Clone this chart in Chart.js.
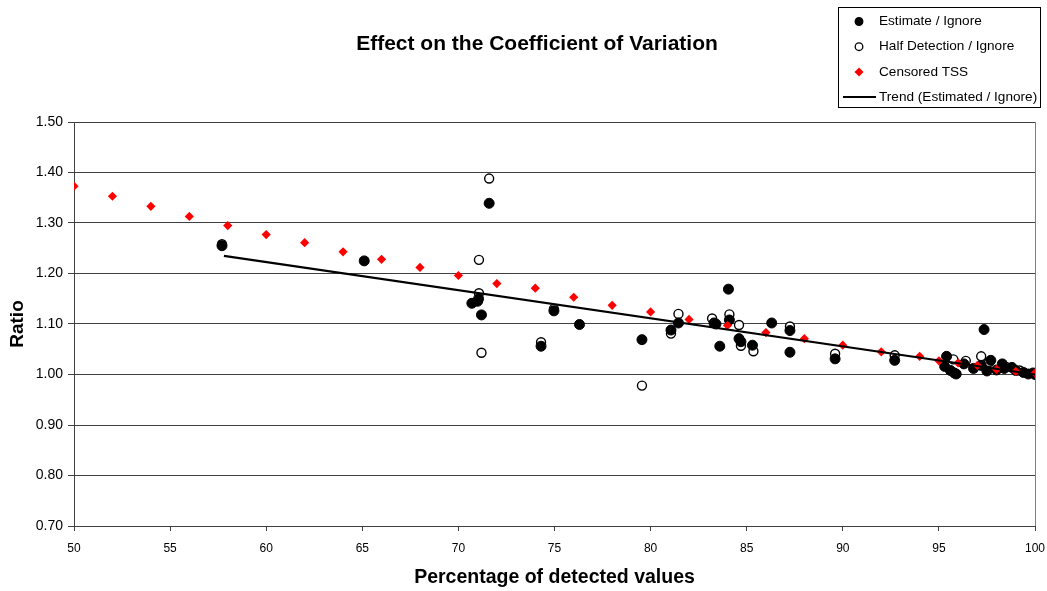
<!DOCTYPE html>
<html>
<head>
<meta charset="utf-8">
<title>Effect on the Coefficient of Variation</title>
<script src="https://cdn.jsdelivr.net/npm/chart.js@4/dist/chart.umd.min.js"></script>
<style>
  html, body { margin: 0; padding: 0; background: #fff; }
  #wrap { width: 1047px; height: 591px; }
</style>
</head>
<body>
<div id="wrap"><canvas id="cvChart" width="1047" height="591"></canvas></div>
<script>
const chartTitle = 'Effect on the Coefficient of Variation';
const xTitle = 'Percentage of detected values';
const yTitle = 'Ratio';

// Estimate / Ignore
const estX = [57.7, 65.1, 71.6, 71.05, 70.7, 71.0, 71.2, 74.97, 74.3, 76.3,
              79.55, 81.06, 81.45, 83.3, 83.4, 83.6, 84.05, 84.1, 84.6, 84.7,
              85.3, 86.3, 87.25, 87.25, 89.6, 92.7, 97.35, 95.4, 95.3, 95.6,
              95.8, 95.9, 96.3, 96.8, 97.2, 97.5, 97.7, 98.0, 98.3, 98.4,
              98.8, 99.0, 99.4, 99.65, 99.9, 100];
const estY = [1.255, 1.225, 1.339, 1.150, 1.141, 1.145, 1.118, 1.126, 1.056, 1.099,
              1.069, 1.088, 1.102, 1.102, 1.100, 1.056, 1.169, 1.108, 1.071, 1.065,
              1.058, 1.102, 1.087, 1.044, 1.031, 1.028, 1.089, 1.036, 1.016, 1.008,
              1.003, 1.001, 1.021, 1.012, 1.018, 1.007, 1.028, 1.009, 1.021, 1.012,
              1.014, 1.008, 1.004, 1.001, 1.003, 1.000];

// Half Detection / Ignore
const halfX = [57.7, 71.6, 71.07, 71.07, 71.2, 74.97, 74.3, 79.55, 81.06, 81.45,
               83.2, 84.1, 84.6, 84.7, 85.35, 87.25, 89.6, 92.7, 95.75, 96.4,
               97.2, 97.6, 98.5, 99.2, 100];
const halfY = [1.258, 1.388, 1.227, 1.161, 1.043, 1.130, 1.064, 0.978, 1.081, 1.120,
               1.111, 1.119, 1.098, 1.057, 1.046, 1.095, 1.041, 1.038, 1.030, 1.027,
               1.036, 1.024, 1.015, 1.008, 1.002];

// Censored TSS
const tssX = [50, 52, 54, 56, 58, 60, 62, 64, 66, 68, 70, 72, 74, 76, 78, 80,
              82, 84, 86, 88, 90, 92, 94, 95, 96, 97, 98, 99, 100];
const tssY = [1.373, 1.353, 1.333, 1.313, 1.295, 1.277, 1.261, 1.243, 1.228, 1.212,
              1.196, 1.180, 1.171, 1.153, 1.137, 1.124, 1.109, 1.097, 1.083, 1.071,
              1.058, 1.045, 1.036, 1.027, 1.023, 1.018, 1.010, 1.006, 1.003];

// Trend (Estimated / Ignore)
const trendX = [57.8, 100];
const trendY = [1.235, 1.0];

const yTicks = [0.7, 0.8, 0.9, 1.0, 1.1, 1.2, 1.3, 1.4, 1.5];

const pairs = (xs, ys) => xs.map((x, i) => ({ x: x, y: ys[i] }));
const FONT = '"Liberation Sans", Arial, sans-serif';

// title and boxed legend, laid out by hand
const headerPlugin = {
  id: 'header',
  afterDraw(chart) {
    const ctx = chart.ctx;
    ctx.save();
    ctx.fillStyle = '#000';
    ctx.textBaseline = 'middle';
    ctx.font = 'bold 21px ' + FONT;
    ctx.textAlign = 'center';
    ctx.fillText(chartTitle, 537, 44);

    ctx.strokeStyle = '#000';
    ctx.lineWidth = 1;
    ctx.strokeRect(838.5, 7.5, 202, 100);

    ctx.font = '13.6px ' + FONT;
    ctx.textAlign = 'left';
    const mx = 859;
    chart.data.datasets.forEach((ds, i) => {
      const y = 21.5 + i * 25.2;
      ctx.beginPath();
      if (ds.showLine) {
        ctx.strokeStyle = '#000';
        ctx.lineWidth = 2;
        ctx.moveTo(843, y);
        ctx.lineTo(876, y);
        ctx.stroke();
      } else if (ds.pointStyle === 'rectRot') {
        ctx.fillStyle = ds.pointBackgroundColor;
        ctx.moveTo(mx, y - 4.5);
        ctx.lineTo(mx + 4.5, y);
        ctx.lineTo(mx, y + 4.5);
        ctx.lineTo(mx - 4.5, y);
        ctx.closePath();
        ctx.fill();
      } else {
        ctx.arc(mx, y, 3.8, 0, Math.PI * 2);
        ctx.fillStyle = ds.pointBackgroundColor;
        ctx.fill();
        ctx.strokeStyle = '#000';
        ctx.lineWidth = 1.3;
        ctx.stroke();
      }
      ctx.fillStyle = '#000';
      ctx.fillText(ds.label, 879, y);
    });
    ctx.restore();
  }
};

new Chart(document.getElementById('cvChart'), {
  type: 'scatter',
  data: {
    datasets: [
      {
        label: 'Estimate / Ignore',
        data: pairs(estX, estY),
        order: 3,
        pointStyle: 'circle',
        pointRadius: 5,
        pointBackgroundColor: '#000',
        pointBorderColor: '#000',
        pointBorderWidth: 1
      },
      {
        label: 'Half Detection / Ignore',
        data: pairs(halfX, halfY),
        order: 4,
        pointStyle: 'circle',
        pointRadius: 4.5,
        pointBackgroundColor: '#fff',
        pointBorderColor: '#000',
        pointBorderWidth: 1.4
      },
      {
        label: 'Censored TSS',
        data: pairs(tssX, tssY),
        order: 2,
        pointStyle: 'rectRot',
        pointRadius: 4.6,
        pointBackgroundColor: '#ff0000',
        pointBorderColor: '#ff0000',
        pointBorderWidth: 0
      },
      {
        label: 'Trend (Estimated / Ignore)',
        data: pairs(trendX, trendY),
        order: 1,
        showLine: true,
        borderColor: '#000',
        borderWidth: 2.2,
        pointRadius: 0,
        pointBackgroundColor: '#000'
      }
    ]
  },
  options: {
    responsive: false,
    animation: false,
    devicePixelRatio: 1,
    layout: { padding: { top: 122, left: 0, right: 12, bottom: 0 } },
    plugins: {
      legend: { display: false },
      title: { display: false },
      tooltip: { enabled: false }
    },
    scales: {
      x: {
        type: 'linear',
        min: 50,
        max: 100,
        afterFit: (s) => {
          s.height = 65;
          s.paddingLeft = 0;
          s.paddingRight = 0;
        },
        ticks: {
          stepSize: 5,
          color: '#000',
          padding: 10,
          font: { family: FONT, size: 12 }
        },
        grid: {
          color: (c) => (c.tick && c.tick.value === 100 ? '#808080' : 'rgba(0,0,0,0)'),
          tickColor: '#404040',
          tickLength: 5
        },
        border: { color: '#404040', width: 1 },
        title: {
          display: true,
          text: xTitle,
          color: '#000',
          padding: { top: 0, bottom: 2 },
          font: { family: FONT, size: 19.5, weight: 'bold' }
        }
      },
      y: {
        type: 'linear',
        min: 0.7,
        max: 1.5,
        afterFit: (s) => { s.width = 74; },
        afterBuildTicks: (s) => { s.ticks = yTicks.map((v) => ({ value: v })); },
        ticks: {
          color: '#000',
          padding: 5,
          font: { family: FONT, size: 14 },
          callback: (v) => Number(v).toFixed(2)
        },
        grid: {
          color: '#404040',
          tickColor: '#404040',
          tickLength: 6
        },
        border: { color: '#404040', width: 1 },
        title: {
          display: true,
          text: yTitle,
          color: '#000',
          padding: { top: 6, bottom: 0 },
          font: { family: FONT, size: 19, weight: 'bold' }
        }
      }
    }
  },
  plugins: [headerPlugin]
});
</script>
</body>
</html>
